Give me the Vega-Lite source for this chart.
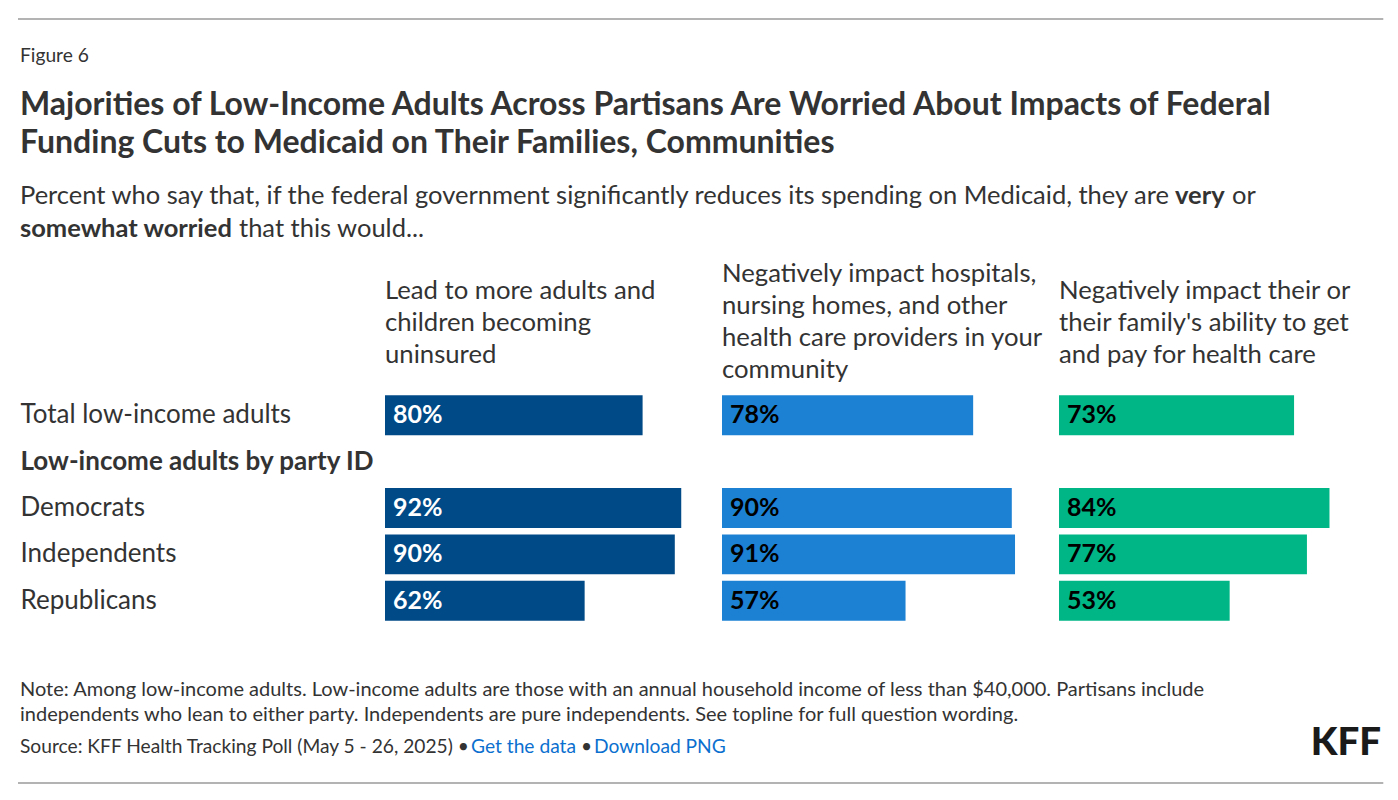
{
  "$schema": "https://vega.github.io/schema/vega-lite/v6.json",
  "background": "white",
  "padding": {"left": 17, "top": 18, "right": 14, "bottom": 17},
  "config": {"font": "Lato", "view": {"stroke": null}},
  "datasets": {
    "survey": [
      {"question": "Lead to more adults and children becoming uninsured", "group": "Total low-income adults", "pct": 0.80},
      {"question": "Lead to more adults and children becoming uninsured", "group": "Democrats", "pct": 0.92},
      {"question": "Lead to more adults and children becoming uninsured", "group": "Independents", "pct": 0.90},
      {"question": "Lead to more adults and children becoming uninsured", "group": "Republicans", "pct": 0.62},
      {"question": "Negatively impact hospitals, nursing homes, and other health care providers in your community", "group": "Total low-income adults", "pct": 0.78},
      {"question": "Negatively impact hospitals, nursing homes, and other health care providers in your community", "group": "Democrats", "pct": 0.90},
      {"question": "Negatively impact hospitals, nursing homes, and other health care providers in your community", "group": "Independents", "pct": 0.91},
      {"question": "Negatively impact hospitals, nursing homes, and other health care providers in your community", "group": "Republicans", "pct": 0.57},
      {"question": "Negatively impact their or their family's ability to get and pay for health care", "group": "Total low-income adults", "pct": 0.73},
      {"question": "Negatively impact their or their family's ability to get and pay for health care", "group": "Democrats", "pct": 0.84},
      {"question": "Negatively impact their or their family's ability to get and pay for health care", "group": "Independents", "pct": 0.77},
      {"question": "Negatively impact their or their family's ability to get and pay for health care", "group": "Republicans", "pct": 0.53}
    ],
    "frame": [{"edge": "line"}]
  },
  "spacing": 19,
  "vconcat": [
    {
      "width": 996, "height": 9,
      "data": {"name": "frame"},
      "mark": {"type": "rule", "color": "#9a9a9a", "strokeWidth": 1.5},
      "encoding": {
        "x": {"datum": -36.85, "type": "quantitative", "scale": {"domain": [0, 100]}, "axis": null},
        "x2": {"datum": 100.23},
        "y": {"datum": 1, "type": "quantitative", "scale": {"domain": [0, 1]}, "axis": null}
      }
    },
    {
      "title": {
        "text": "Figure 6",
        "subtitle": ["Majorities of Low-Income Adults Across Partisans Are Worried About Impacts of Federal", "Funding Cuts to Medicaid on Their Families, Communities"],
        "anchor": "start", "font": "Lato", "fontSize": 19.2, "fontWeight": "normal", "color": "#333333",
        "subtitleFont": "Lato", "subtitleFontSize": 32, "subtitleFontWeight": "bold", "subtitleColor": "#333333",
        "subtitleLineHeight": 38, "subtitlePadding": 24, "offset": 25
      },
      "vconcat": [
        {
          "title": {"text": "or", "anchor": "start", "font": "Lato", "fontSize": 25.5, "fontWeight": "normal", "color": "#333333", "offset": -25.5, "dx": 1212},
          "vconcat": [
            {
              "title": {"text": "very", "anchor": "start", "font": "Lato", "fontSize": 25.5, "fontWeight": "bold", "color": "#333333", "offset": -25.5, "dx": 1155},
              "vconcat": [
                {
                  "title": {"text": "Percent who say that, if the federal government significantly reduces its spending on Medicaid, they are", "anchor": "start", "font": "Lato", "fontSize": 25.5, "fontWeight": "normal", "color": "#333333", "offset": 7.5},
                  "vconcat": [
                    {
                      "title": {"text": "somewhat worried", "anchor": "start", "font": "Lato", "fontSize": 25.5, "fontWeight": "bold", "color": "#333333", "offset": -25.5},
                      "vconcat": [
                        {
                          "title": {"text": "that this would...", "anchor": "start", "font": "Lato", "fontSize": 25.5, "fontWeight": "normal", "color": "#333333", "offset": 18, "dx": 219},
                          "vconcat": [
                            {
                              "title": {"text": "KFF", "orient": "bottom", "anchor": "end", "font": "Lato", "fontSize": 38.5, "fontWeight": 900, "color": "#1a1a1a", "offset": -32},
                              "vconcat": [
                                {
                                  "title": {"text": "Download PNG", "orient": "bottom", "anchor": "start", "font": "Lato", "fontSize": 19.2, "fontWeight": "normal", "color": "#0b6fcf", "offset": -19.2, "dx": 574},
                                  "vconcat": [
                                    {
                                      "title": {"text": "•", "orient": "bottom", "anchor": "start", "font": "Lato", "fontSize": 19.2, "fontWeight": "normal", "color": "#333333", "offset": -19.2, "dx": 561},
                                      "vconcat": [
                                        {
                                          "title": {"text": "Get the data", "orient": "bottom", "anchor": "start", "font": "Lato", "fontSize": 19.2, "fontWeight": "normal", "color": "#0b6fcf", "offset": -19.2, "dx": 451},
                                          "vconcat": [
                                            {
                                              "title": {
                                                "text": ["Note: Among low-income adults. Low-income adults are those with an annual household income of less than $40,000. Partisans include", "independents who lean to either party. Independents are pure independents. See topline for full question wording."],
                                                "subtitle": "Source: KFF Health Tracking Poll (May 5 - 26, 2025) •",
                                                "orient": "bottom", "anchor": "start", "font": "Lato", "fontSize": 20, "fontWeight": "normal", "lineHeight": 25, "color": "#333333",
                                                "subtitleFont": "Lato", "subtitleFontSize": 19.2, "subtitleColor": "#333333", "subtitlePadding": 13, "offset": 55.75
                                              },
                                              "spacing": 15,
                                              "bounds": "flush",
                                              "hconcat": [
                                                {
                                                  "data": {"name": "survey"},
                                                  "transform": [{"filter": "datum.question === 'Lead to more adults and children becoming uninsured'"}],
                                                  "title": {"text": ["Lead to more adults and", "children becoming", "uninsured"], "anchor": "start", "frame": "group", "font": "Lato", "fontSize": 25.7, "fontWeight": "normal", "lineHeight": 32, "color": "#333333", "offset": 23.5},
                                                  "width": 322, "height": 232,
                                                  "encoding": {
                                                    "y": {
                                                      "field": "group", "type": "nominal", "title": null,
                                                      "scale": {"domain": ["Total low-income adults", "Low-income adults by party ID", "Democrats", "Independents", "Republicans"], "paddingInner": 0.14, "paddingOuter": 0.07},
                                                      "axis": {
                                                        "domain": false, "ticks": false, "labelAlign": "left", "labelPadding": 365, "labelLimit": 400,
                                                        "labelFont": "Lato", "labelFontSize": 26, "labelColor": "#333333",
                                                        "labelFontWeight": {"condition": {"test": "datum.value === 'Low-income adults by party ID'", "value": "bold"}, "value": "normal"}
                                                      }
                                                    }
                                                  },
                                                  "layer": [
                                                    {
                                                      "mark": {"type": "bar"},
                                                      "encoding": {
                                                        "x": {"field": "pct", "type": "quantitative", "scale": {"domain": [0, 1]}, "axis": null},
                                                        "color": {"field": "question", "type": "nominal", "legend": null,
                                                          "scale": {"domain": ["Lead to more adults and children becoming uninsured", "Negatively impact hospitals, nursing homes, and other health care providers in your community", "Negatively impact their or their family's ability to get and pay for health care"], "range": ["#004a87", "#1c80d3", "#00b686"]}}
                                                      }
                                                    },
                                                    {
                                                      "mark": {"type": "text", "align": "left", "baseline": "middle", "dx": 8, "fontSize": 25, "fontWeight": "bold", "font": "Lato", "color": "#ffffff"},
                                                      "encoding": {
                                                        "x": {"datum": 0, "type": "quantitative"},
                                                        "text": {"field": "pct", "type": "quantitative", "format": ".0%"}
                                                      }
                                                    }
                                                  ]
                                                },
                                                {
                                                  "data": {"name": "survey"},
                                                  "transform": [{"filter": "datum.question === 'Negatively impact hospitals, nursing homes, and other health care providers in your community'"}],
                                                  "title": {"text": ["Negatively impact hospitals,", "nursing homes, and other", "health care providers in your", "community"], "anchor": "start", "frame": "group", "font": "Lato", "fontSize": 25.7, "fontWeight": "normal", "lineHeight": 32, "color": "#333333", "offset": 8.5},
                                                  "width": 322, "height": 232,
                                                  "encoding": {
                                                    "y": {
                                                      "field": "group", "type": "nominal", "title": null,
                                                      "scale": {"domain": ["Total low-income adults", "Low-income adults by party ID", "Democrats", "Independents", "Republicans"], "paddingInner": 0.14, "paddingOuter": 0.07},
                                                      "axis": null
                                                    }
                                                  },
                                                  "layer": [
                                                    {
                                                      "mark": {"type": "bar"},
                                                      "encoding": {
                                                        "x": {"field": "pct", "type": "quantitative", "scale": {"domain": [0, 1]}, "axis": null},
                                                        "color": {"field": "question", "type": "nominal", "legend": null,
                                                          "scale": {"domain": ["Lead to more adults and children becoming uninsured", "Negatively impact hospitals, nursing homes, and other health care providers in your community", "Negatively impact their or their family's ability to get and pay for health care"], "range": ["#004a87", "#1c80d3", "#00b686"]}}
                                                      }
                                                    },
                                                    {
                                                      "mark": {"type": "text", "align": "left", "baseline": "middle", "dx": 8, "fontSize": 25, "fontWeight": "bold", "font": "Lato", "color": "#000000"},
                                                      "encoding": {
                                                        "x": {"datum": 0, "type": "quantitative"},
                                                        "text": {"field": "pct", "type": "quantitative", "format": ".0%"}
                                                      }
                                                    }
                                                  ]
                                                },
                                                {
                                                  "data": {"name": "survey"},
                                                  "transform": [{"filter": "datum.question === \"Negatively impact their or their family's ability to get and pay for health care\""}],
                                                  "title": {"text": ["Negatively impact their or", "their family's ability to get", "and pay for health care"], "anchor": "start", "frame": "group", "font": "Lato", "fontSize": 25.7, "fontWeight": "normal", "lineHeight": 32, "color": "#333333", "offset": 23.5},
                                                  "width": 322, "height": 232,
                                                  "encoding": {
                                                    "y": {
                                                      "field": "group", "type": "nominal", "title": null,
                                                      "scale": {"domain": ["Total low-income adults", "Low-income adults by party ID", "Democrats", "Independents", "Republicans"], "paddingInner": 0.14, "paddingOuter": 0.07},
                                                      "axis": null
                                                    }
                                                  },
                                                  "layer": [
                                                    {
                                                      "mark": {"type": "bar"},
                                                      "encoding": {
                                                        "x": {"field": "pct", "type": "quantitative", "scale": {"domain": [0, 1]}, "axis": null},
                                                        "color": {"field": "question", "type": "nominal", "legend": null,
                                                          "scale": {"domain": ["Lead to more adults and children becoming uninsured", "Negatively impact hospitals, nursing homes, and other health care providers in your community", "Negatively impact their or their family's ability to get and pay for health care"], "range": ["#004a87", "#1c80d3", "#00b686"]}}
                                                      }
                                                    },
                                                    {
                                                      "mark": {"type": "text", "align": "left", "baseline": "middle", "dx": 8, "fontSize": 25, "fontWeight": "bold", "font": "Lato", "color": "#000000"},
                                                      "encoding": {
                                                        "x": {"datum": 0, "type": "quantitative"},
                                                        "text": {"field": "pct", "type": "quantitative", "format": ".0%"}
                                                      }
                                                    }
                                                  ]
                                                }
                                              ]
                                            }
                                          ]
                                        }
                                      ]
                                    }
                                  ]
                                }
                              ]
                            }
                          ]
                        }
                      ]
                    }
                  ]
                }
              ]
            }
          ]
        }
      ]
    },
    {
      "width": 996, "height": 1,
      "data": {"name": "frame"},
      "mark": {"type": "rule", "color": "#9a9a9a", "strokeWidth": 1.5},
      "encoding": {
        "x": {"datum": -36.85, "type": "quantitative", "scale": {"domain": [0, 100]}, "axis": null},
        "x2": {"datum": 100.23},
        "y": {"datum": 1, "type": "quantitative", "scale": {"domain": [0, 1]}, "axis": null}
      }
    }
  ]
}
